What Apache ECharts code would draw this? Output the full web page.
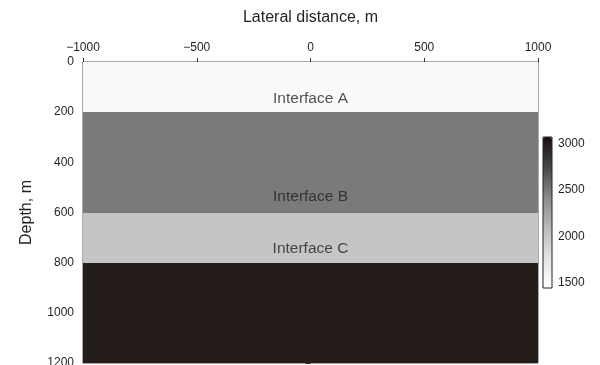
<!DOCTYPE html>
<html>
<head>
<meta charset="utf-8">
<script src="https://cdn.jsdelivr.net/npm/echarts@6/dist/echarts.min.js"></script>
<style>html,body{margin:0;padding:0;background:#fff;}#c{width:600px;height:365px;}</style>
</head>
<body>
<div id="c"></div>
<script>
// ---- data ----
const xRange = [-1000, 1000];
const depthRange = [0, 1200];
const layerTop = [0, 200, 600, 800];
const layerBottom = [200, 600, 800, 1200];
const layerVelocity = [1500, 2500, 2000, 3000];
const interfaceNames = ['Interface A', 'Interface B', 'Interface C'];
const interfaceLabelX = [0, 0, 0];
const interfaceLabelDepth = [145, 538, 745];
const colorRange = [1440, 3075];
const colorbarTicks = [1500, 2000, 2500, 3000];
const grayStops = ['#ffffff', '#e4e4e4', '#b9b9b9', '#8a8a8a', '#474747', '#1a100d'];

// ---- build ----
const layerData = layerTop.map((t, i) => [xRange[0], xRange[1], t, layerBottom[i], layerVelocity[i]]);
const labelData = interfaceNames.map((n, i) => ({ value: [interfaceLabelX[i], interfaceLabelDepth[i]], name: n }));
const FONT = 'Liberation Sans, Arial, sans-serif';
const TXT = '#231f20';
const plain = v => (v < 0 ? '\u2212' + Math.abs(v) : String(v));

const chart = echarts.init(document.getElementById('c'), null, { renderer: 'canvas' });
chart.setOption({
  animation: false,
  tooltip: { show: false },
  textStyle: { fontFamily: FONT },
  grid: [
    { left: 83, right: 62, top: 62, height: 301, outerBoundsMode: 'none', containLabel: false,
      show: true, borderColor: '#555', borderWidth: 1, backgroundColor: 'transparent' },
    { left: 543, width: 9, top: 137, height: 151, outerBoundsMode: 'none', containLabel: false,
      show: true, borderColor: '#222', borderWidth: 1, backgroundColor: 'transparent', z: 10 }
  ],
  xAxis: [
    {
      gridIndex: 0, type: 'value', position: 'top', min: xRange[0], max: xRange[1], interval: 500,
      name: 'Lateral distance, m', nameLocation: 'middle', nameGap: 36,
      nameTextStyle: { fontSize: 16, color: TXT, fontFamily: FONT },
      axisLine: { show: true, lineStyle: { color: '#333', width: 1 } },
      axisTick: { show: true, length: 4, lineStyle: { color: '#333' } },
      axisLabel: { fontSize: 12, color: TXT, fontFamily: FONT, margin: 8, formatter: plain },
      splitLine: { show: false }
    },
    { gridIndex: 1, type: 'value', show: false, min: 0, max: 1 }
  ],
  yAxis: [
    {
      gridIndex: 0, type: 'value', inverse: true, min: depthRange[0], max: depthRange[1], interval: 200,
      name: 'Depth, m', nameLocation: 'middle', nameGap: 48, nameRotate: 90,
      nameTextStyle: { fontSize: 16, color: TXT, fontFamily: FONT },
      axisLine: { show: true, lineStyle: { color: '#333', width: 1 } },
      axisTick: { show: true, length: 5, lineStyle: { color: '#333' } },
      minorTick: { show: true, splitNumber: 4, length: 3, lineStyle: { color: '#333' } },
      axisLabel: { fontSize: 12, color: TXT, fontFamily: FONT, margin: 9, formatter: plain },
      splitLine: { show: false }
    },
    {
      gridIndex: 1, type: 'value', position: 'right', min: colorRange[0], max: colorRange[1],
      axisLine: { show: false },
      axisTick: { show: true, length: 3, customValues: colorbarTicks, lineStyle: { color: '#333' } },
      axisLabel: { fontSize: 12, color: TXT, fontFamily: FONT, margin: 6, customValues: colorbarTicks, formatter: plain },
      splitLine: { show: false }
    }
  ],
  visualMap: {
    type: 'continuous', show: true, seriesIndex: 0, dimension: 4,
    min: colorRange[0], max: colorRange[1], calculable: false, hoverLink: false,
    inRange: { color: grayStops },
    left: 543, top: 137, itemWidth: 9, itemHeight: 151, padding: 0,
    text: null, showLabel: false, orient: 'vertical'
  },
  series: [
    {
      type: 'custom', xAxisIndex: 0, yAxisIndex: 0, silent: true,
      encode: { x: [0, 1], y: [2, 3] },
      emphasis: { disabled: true },
      data: layerData,
      renderItem: function (params, api) {
        const p0 = api.coord([api.value(0), api.value(2)]);
        const p1 = api.coord([api.value(1), api.value(3)]);
        const x0 = Math.round(Math.min(p0[0], p1[0])), x1 = Math.round(Math.max(p0[0], p1[0]));
        const y0 = Math.round(Math.min(p0[1], p1[1])), y1 = Math.round(Math.max(p0[1], p1[1]));
        return {
          type: 'rect', silent: true,
          shape: { x: x0, y: y0, width: x1 - x0, height: y1 - y0 },
          style: { fill: api.visual('color'), stroke: null, lineWidth: 0 }
        };
      }
    },
    {
      type: 'scatter', xAxisIndex: 0, yAxisIndex: 0, symbol: 'circle', symbolSize: 1, z: 5, silent: true,
      itemStyle: { color: 'rgba(0,0,0,0)' },
      emphasis: { disabled: true },
      data: labelData,
      label: { show: true, position: 'inside', formatter: p => p.name, fontSize: 15.5, color: TXT, fontFamily: FONT }
    }
  ]
});
</script>
</body>
</html>
